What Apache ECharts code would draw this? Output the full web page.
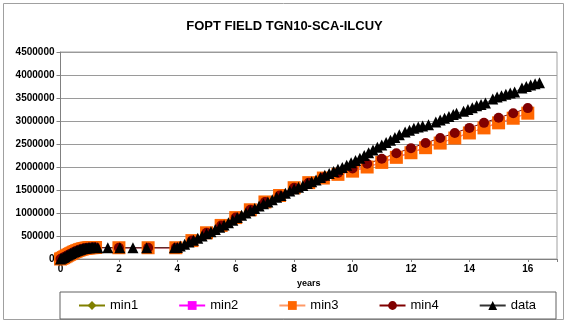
<!DOCTYPE html>
<html>
<head>
<meta charset="utf-8">
<script src="https://cdn.jsdelivr.net/npm/echarts@6/dist/echarts.min.js"></script>
<style>
  html, body { margin: 0; padding: 0; background: #fff; }
  #main { width: 569px; height: 323px; }
</style>
</head>
<body>
<div id="main"></div>
<script>
// years for the measured data (early build-up, plateau, then the ramp)
var dataYears = [
  0, 0.05, 0.1, 0.15, 0.2, 0.25, 0.3, 0.35, 0.4, 0.45, 0.5, 0.55, 0.6, 0.65, 0.7,
  0.75, 0.8, 0.85, 0.9, 0.95, 1.0, 1.05, 1.1, 1.15, 1.2,
  1.28, 1.62, 2.03, 2.48, 2.95, 3.9,
  4.0, 4.1, 4.25, 4.4, 4.55, 4.7, 4.85, 5.0, 5.15, 5.3, 5.45, 5.6, 5.75, 5.9,
  6.05, 6.2, 6.35, 6.5, 6.65, 6.8, 6.95, 7.1, 7.25, 7.4, 7.55, 7.7, 7.85,
  8.0, 8.15, 8.3, 8.45, 8.6, 8.75, 8.9, 9.05, 9.2, 9.35, 9.5, 9.65, 9.8, 9.95,
  10.1, 10.25, 10.4, 10.55, 10.7, 10.85, 11.0, 11.15, 11.3, 11.45, 11.6,
  11.8, 11.95, 12.1, 12.25, 12.4, 12.6,
  12.85, 13.0, 13.15, 13.3, 13.45, 13.56,
  13.8, 13.95, 14.1, 14.25, 14.4, 14.55,
  14.8, 14.95, 15.1, 15.25, 15.4, 15.55,
  15.8, 15.95, 16.1, 16.25, 16.4
];
var dataValues = [
  0, 15000, 32000, 50000, 68000, 85000, 102000, 118000, 134000, 150000, 165000, 178000, 190000, 202000, 212000,
  221000, 229000, 235000, 240000, 244000, 247000, 249000, 250000, 251000, 252000,
  245000, 245000, 245000, 245000, 245000, 245000,
  250000, 280000, 320000, 370000, 410000, 450000, 500000, 550000, 590000, 640000, 690000, 740000, 790000, 840000,
  900000, 950000, 1000000, 1050000, 1100000, 1150000, 1200000, 1240000, 1290000, 1340000, 1380000, 1430000, 1480000,
  1520000, 1560000, 1600000, 1640000, 1680000, 1720000, 1770000, 1820000, 1860000, 1900000, 1950000, 1990000, 2040000, 2090000,
  2140000, 2190000, 2250000, 2310000, 2370000, 2430000, 2480000, 2530000, 2580000, 2640000, 2700000,
  2760000, 2800000, 2840000, 2870000, 2890000, 2920000,
  2980000, 3020000, 3060000, 3100000, 3140000, 3170000,
  3210000, 3250000, 3290000, 3330000, 3360000, 3390000,
  3480000, 3520000, 3550000, 3580000, 3610000, 3630000,
  3720000, 3750000, 3780000, 3810000, 3830000
];

// simulated cases share the same report times
var minYears = [
  0, 0.05, 0.1, 0.15, 0.2, 0.25, 0.3, 0.35, 0.4, 0.45, 0.5, 0.55, 0.6, 0.65, 0.7,
  0.75, 0.8, 0.85, 0.9, 0.95, 1.0, 1.05, 1.1, 1.15, 1.2,
  2.0, 3.0, 3.95,
  4.5, 5.0, 5.5, 6.0, 6.5, 7.0, 7.5, 8.0, 8.5, 9.0, 9.5, 10.0, 10.5,
  11.0, 11.5, 12.0, 12.5, 13.0, 13.5, 14.0, 14.5, 15.0, 15.5, 16.0
];
var min4Values = [
  0, 14000, 30000, 48000, 66000, 83000, 100000, 116000, 132000, 148000, 163000, 176000, 188000, 200000, 210000,
  219000, 227000, 233000, 238000, 242000, 245000, 247000, 248000, 249000, 250000,
  245000, 245000, 245000,
  400000, 570000, 730000, 900000, 1070000, 1240000, 1380000, 1550000, 1660000, 1770000, 1870000, 1970000, 2070000,
  2180000, 2300000, 2410000, 2520000, 2630000, 2740000, 2850000, 2960000, 3070000, 3170000, 3280000
];
var min3Values = [
  0, 14000, 30000, 48000, 66000, 83000, 100000, 116000, 132000, 148000, 163000, 176000, 188000, 200000, 210000,
  219000, 227000, 233000, 238000, 242000, 245000, 247000, 248000, 249000, 250000,
  245000, 245000, 245000,
  400000, 570000, 730000, 900000, 1070000, 1240000, 1380000, 1550000, 1660000, 1760000, 1840000, 1910000, 2000000,
  2100000, 2210000, 2310000, 2420000, 2520000, 2630000, 2740000, 2850000, 2960000, 3060000, 3170000
];
// min1 and min2 sit underneath min3 in the picture
var min2Values = min3Values.slice();
var min1Values = min3Values.slice();

var yTicks = [0, 500000, 1000000, 1500000, 2000000, 2500000, 3000000, 3500000, 4000000, 4500000];

function pairs(xs, ys) {
  return xs.map(function (x, i) { return [x, ys[i]]; });
}

var dom = document.getElementById('main');
var myChart = echarts.init(dom, null, { renderer: 'canvas' });

var fontFamily = 'Liberation Sans, Arial, sans-serif';

var option = {
  backgroundColor: '#fff',
  animation: false,
  textStyle: { fontFamily: fontFamily },
  title: {
    text: 'FOPT FIELD TGN10-SCA-ILCUY',
    left: 'center',
    top: 15,
    textStyle: { fontSize: 13, fontWeight: 'bold', color: '#000', fontFamily: fontFamily }
  },
  graphic: [{
    type: 'rect',
    shape: { x: 3.5, y: 3.5, width: 560, height: 316 },
    style: { fill: 'none', stroke: '#a0a0a0', lineWidth: 1 },
    silent: true
  }],
  legend: {
    left: 60,
    top: 292,
    padding: [7, 20, 7, 18],
    itemGap: 40,
    itemWidth: 26,
    itemHeight: 11,
    borderColor: '#606060',
    borderWidth: 1,
    textStyle: { fontSize: 13, color: '#000', fontFamily: fontFamily },
    data: ['min1', 'min2', 'min3', 'min4', 'data']
  },
  grid: {
    left: 60.5,
    right: 12,
    top: 52,
    bottom: 64,
    show: true,
    borderColor: '#a0a0a0',
    borderWidth: 1
  },
  xAxis: {
    type: 'value',
    min: 0,
    max: 17,
    interval: 2,
    name: 'years',
    nameLocation: 'middle',
    nameGap: 17,
    nameTextStyle: { fontSize: 9, fontWeight: 'bold', color: '#000' },
    axisLine: { show: true, onZero: false, lineStyle: { color: '#808080' } },
    axisTick: { show: true, length: 3, lineStyle: { color: '#808080' } },
    axisLabel: {
      fontSize: 10,
      fontWeight: 'bold',
      color: '#000',
      margin: 5,
      formatter: function (v) { return v % 2 === 0 ? String(v) : ''; }
    },
    splitLine: { show: false }
  },
  yAxis: {
    type: 'value',
    min: yTicks[0],
    max: yTicks[yTicks.length - 1],
    interval: 500000,
    axisLine: { show: true, lineStyle: { color: '#808080' } },
    axisTick: { show: true, length: 4, lineStyle: { color: '#808080' } },
    axisLabel: {
      fontSize: 10,
      fontWeight: 'bold',
      color: '#000',
      margin: 6,
      formatter: function (v) { return String(v); }
    },
    splitLine: { show: true, lineStyle: { color: '#9a9a9a', width: 1 } }
  },
  series: [
    {
      name: 'min1', type: 'line', data: pairs(minYears, min1Values),
      symbol: 'diamond', symbolSize: 9,
      itemStyle: { color: '#808000' }, lineStyle: { color: '#808000', width: 1 }
    },
    {
      name: 'min2', type: 'line', data: pairs(minYears, min2Values),
      symbol: 'rect', symbolSize: 7,
      itemStyle: { color: '#ff00ff' }, lineStyle: { color: '#ff00ff', width: 1 }
    },
    {
      name: 'min3', type: 'line', data: pairs(minYears, min3Values),
      symbol: 'rect', symbolSize: 13,
      itemStyle: { color: '#ff6600' }, lineStyle: { color: '#ff9966', width: 1 }
    },
    {
      name: 'min4', type: 'line', data: pairs(minYears, min4Values),
      symbol: 'circle', symbolSize: 10,
      itemStyle: { color: '#800000' }, lineStyle: { color: '#800000', width: 1 }
    },
    {
      name: 'data', type: 'line', data: pairs(dataYears, dataValues),
      symbol: 'triangle', symbolSize: 11,
      itemStyle: { color: '#000' }, lineStyle: { color: '#333', width: 0.7 }
    }
  ]
};

myChart.setOption(option, true);
</script>
</body>
</html>
